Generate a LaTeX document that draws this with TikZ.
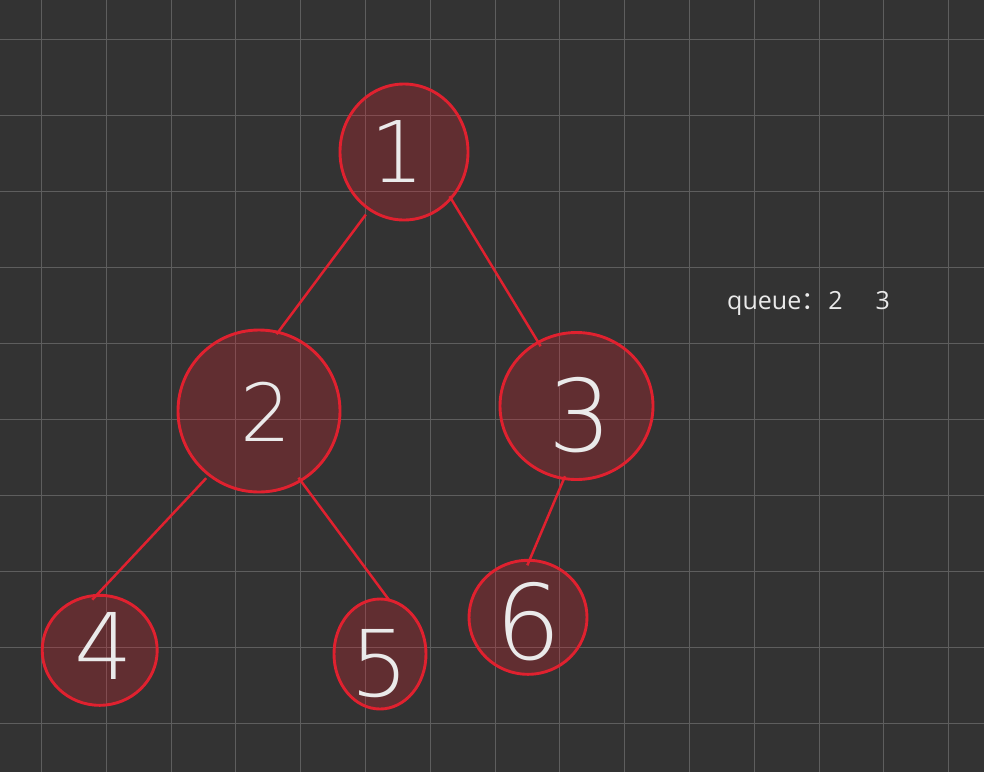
\documentclass[tikz,border=0pt]{standalone}
\usepackage{fontspec}
\setmainfont{Open Sans}
\newfontfamily\cjk{Noto Sans CJK SC}
\newfontfamily\hand{DejaVuSans-ExtraLight.ttf}
\usetikzlibrary{shapes.geometric}
\definecolor{bg}{HTML}{333333}
\definecolor{gridc}{HTML}{5E5E5E}
\definecolor{redc}{HTML}{E0212F}
\definecolor{txt}{HTML}{EAEAEA}
\tikzset{
  treenode/.style={ellipse, draw=redc, line width=2.9pt, fill=redc, fill opacity=0.27, draw opacity=1, inner sep=0pt},
  digit/.style={text=txt, inner sep=0pt, font=\hand\fontsize{#1}{#1}\selectfont},
  edge/.style={draw=redc, line width=2.5pt},
  gridline/.style={draw=gridc, line width=1pt},
}
\begin{document}
\begin{tikzpicture}[x=1pt,y=-1pt]
\fill[bg] (0,0) rectangle (984,772);
\useasboundingbox (0,0) rectangle (984,772);
\foreach \k in {0,...,14} \draw[gridline] ({41.5+64.8*\k},0) -- ({41.5+64.8*\k},772);
\foreach \k in {0,...,9} \draw[gridline] (0,{39.3+76*\k}) -- (984,{39.3+76*\k});

\node[treenode, minimum width=128pt, minimum height=136pt] (n1) at (404,152) {};
\node[treenode, minimum width=162pt, minimum height=162pt] (n2) at (259,411) {};
\node[treenode, minimum width=153pt, minimum height=147pt] (n3) at (576.5,406) {};
\node[treenode, minimum width=115pt, minimum height=110pt] (n4) at (99.7,650.3) {};
\node[treenode, minimum width=92pt, minimum height=110pt] (n5) at (380,654) {};
\node[treenode, minimum width=118pt, minimum height=114pt] (n6) at (528,617.3) {};

\node[digit=85] (d1) at (398,152) {1};
\node[digit=80] (d2) at (266,412) {2};
\node[digit=100] (d3) at (580,415) {3};
\node[digit=92] (d4) at (104,646) {4};
\node[digit=92] (d5) at (380,664) {5};
\node[digit=104] (d6) at (529,622) {6};

\draw[edge, shorten <=5pt, shorten >=-4pt] (n1.239.7) -- (n2.76.5);
\draw[edge, shorten <=-4pt, shorten >=-6pt] (n1.315.7) -- (n3.121.9);
\draw[edge, shorten <=3pt, shorten >=-8pt] (n2.232.7) -- (n4.92);
\draw[edge, shorten <=-5pt, shorten >=-3pt] (n2.301) -- (n5.82.3);
\draw[edge, shorten <=-4pt, shorten >=-7pt] (n3.260.5) -- (n6.88.8);

\node[anchor=base west, text=txt, font=\fontsize{25}{25}\selectfont, inner sep=0pt] (q) at (727,309) {queue{\cjk ：}\hspace{2pt}2\hspace{33pt}3};
\end{tikzpicture}
\end{document}
